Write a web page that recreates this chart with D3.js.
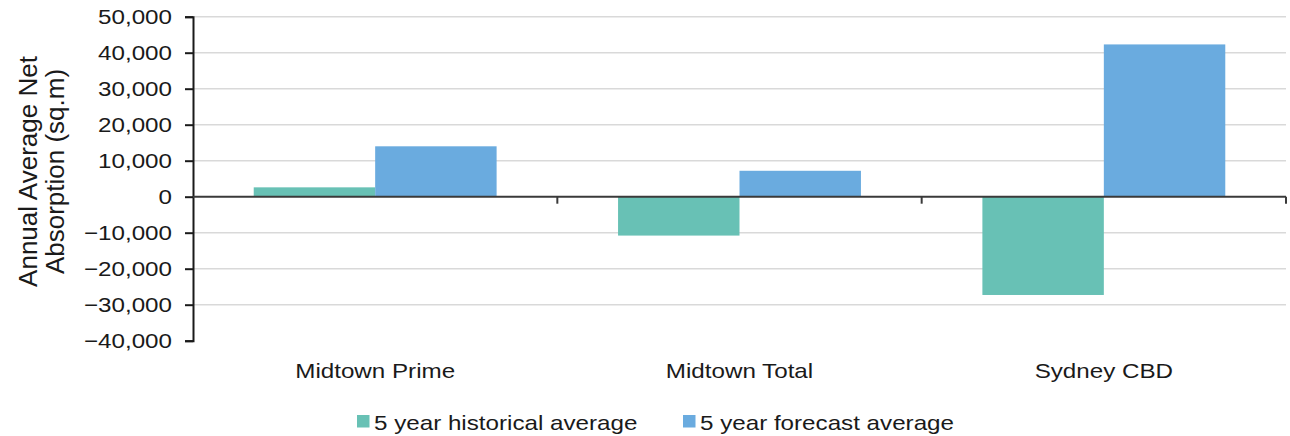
<!DOCTYPE html>
<html>
<head>
<meta charset="utf-8">
<script src="https://cdn.jsdelivr.net/npm/d3@7/dist/d3.min.js"></script>
<style>
  body { margin: 0; background: #fff; }
  svg text { font-family: "Liberation Sans", Arial, sans-serif; fill: #1a1a1a; }
</style>
</head>
<body>
<svg id="chart" width="1290" height="436"></svg>
<script>
// Annual average net absorption by market
const categories = ["Midtown Prime", "Midtown Total", "Sydney CBD"];
const seriesNames = ["5 year historical average", "5 year forecast average"];
const historical = [2600, -10800, -27300];
const forecast = [14000, 7200, 42300];
const yTicks = [50000, 40000, 30000, 20000, 10000, 0, -10000, -20000, -30000, -40000];
const colors = ["#68c1b5", "#6aabdf"];

const svg = d3.select("#chart");
const plotLeft = 193, plotRight = 1286, plotTop = 16.7, plotBottom = 340.7;
const sx = 1.18;          // horizontal text widening
const fontPx = 20.5;

const y = d3.scaleLinear().domain([-40000, 50000]).range([plotBottom, plotTop]);
const x0 = d3.scaleBand().domain(categories).range([plotLeft, plotRight]).padding(0);
const bw = x0.bandwidth();
const x1 = d3.scaleBand().domain(seriesNames).range([bw / 6, bw * 5 / 6]).padding(0);

const fmt = d3.format(",");

// gridlines
svg.append("g")
  .selectAll("line")
  .data(yTicks.filter(d => d !== 0 && d !== -40000))
  .join("line")
  .attr("x1", plotLeft).attr("x2", plotRight)
  .attr("y1", d => y(d)).attr("y2", d => y(d))
  .attr("stroke", "#d9d9d9").attr("stroke-width", 1.5);

// bars
const rows = categories.map((c, i) => ({ cat: c, values: [historical[i], forecast[i]] }));
svg.append("g")
  .selectAll("g")
  .data(rows)
  .join("g")
  .attr("transform", d => `translate(${x0(d.cat)},0)`)
  .selectAll("rect")
  .data(d => d.values.map((v, j) => ({ name: seriesNames[j], v, j })))
  .join("rect")
  .attr("x", d => x1(d.name))
  .attr("width", x1.bandwidth())
  .attr("y", d => y(Math.max(0, d.v)))
  .attr("height", d => Math.abs(y(d.v) - y(0)))
  .attr("fill", d => colors[d.j]);

// y axis
const yAxis = d3.axisLeft(y).tickValues(yTicks).tickFormat(fmt).tickSize(8).tickPadding(13);
const ga = svg.append("g").attr("transform", `translate(${plotLeft},0)`).call(yAxis);
ga.select(".domain").attr("stroke", "#1a1a1a").attr("stroke-width", 2);
ga.selectAll(".tick line").attr("stroke", "#1a1a1a").attr("stroke-width", 2);
ga.selectAll(".tick text")
  .attr("x", -21 / sx)
  .attr("transform", `scale(${sx},1)`)
  .style("font-size", fontPx + "px")
  .style("font-family", "Liberation Sans, Arial, sans-serif")
  .attr("fill", "#1a1a1a");

// zero baseline with category ticks
svg.append("line")
  .attr("x1", plotLeft).attr("x2", plotRight)
  .attr("y1", y(0)).attr("y2", y(0))
  .attr("stroke", "#3a3a3a").attr("stroke-width", 2);
svg.append("g")
  .selectAll("line")
  .data(categories.slice(1).map(c => x0(c)).concat([plotRight]))
  .join("line")
  .attr("x1", d => d).attr("x2", d => d)
  .attr("y1", y(0)).attr("y2", y(0) + 7)
  .attr("stroke", "#3a3a3a").attr("stroke-width", 2);

// category labels
svg.append("g")
  .selectAll("text")
  .data(categories)
  .join("text")
  .attr("transform", d => `translate(${x0(d) + bw / 2},378) scale(${sx},1)`)
  .attr("text-anchor", "middle")
  .style("font-size", fontPx + "px")
  .text(d => d);

// y axis title, two rotated lines
const titleLines = ["Annual Average Net", "Absorption (sq.m)"];
svg.append("g")
  .selectAll("text")
  .data(titleLines)
  .join("text")
  .attr("transform", (d, i) => `translate(${37 + i * 27},171.5) rotate(-90)`)
  .attr("text-anchor", "middle")
  .style("font-size", "26px")
  .text(d => d);

// legend
const legendX = [357, 683];
const lg = svg.append("g")
  .selectAll("g")
  .data(seriesNames)
  .join("g")
  .attr("transform", (d, i) => `translate(${legendX[i]},415)`);
lg.append("rect").attr("width", 12.5).attr("height", 12.5).attr("fill", (d, i) => colors[i]);
lg.append("text")
  .attr("transform", `translate(17,15) scale(${sx},1)`)
  .style("font-size", fontPx + "px")
  .text(d => d);
</script>
</body>
</html>
